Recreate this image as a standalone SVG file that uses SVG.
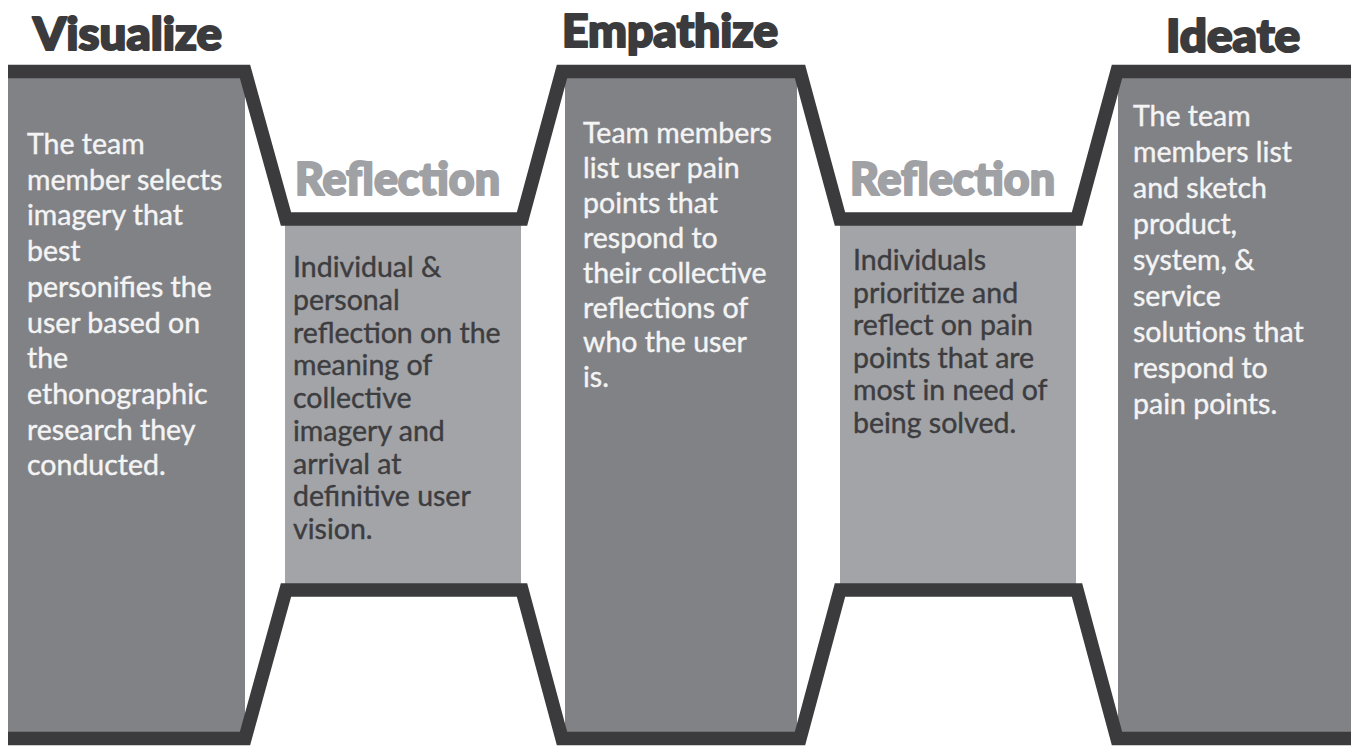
<svg xmlns="http://www.w3.org/2000/svg" width="1351" height="746" viewBox="0 0 1351 746">
  <style>
    .dark { fill: #818286; }
    .light { fill: #a3a4a8; }
    .frame { fill: none; stroke: #3b3b3d; stroke-width: 13.5; stroke-linejoin: miter; stroke-miterlimit: 10; }
    .head { font-family: Lato, "Liberation Sans", sans-serif; font-weight: 900; font-size: 46px; stroke-width: 2.2; stroke-linejoin: round; }
    .head-dark { fill: #3b3b3d; stroke: #3b3b3d; }
    .head-light { fill: #a0a1a5; stroke: #a0a1a5; }
    .body { font-family: Lato, "Liberation Sans", sans-serif; font-size: 28.5px; stroke-width: 0.4; }
    .on-dark { fill: #f4f4f4; stroke: #f4f4f4; }
    .on-light { fill: #3d3d40; stroke: #3d3d40; }
  </style>
  <rect width="1351" height="746" fill="#ffffff"/>

  <!-- Visualize stage -->
  <g id="visualize">
    <rect class="dark" x="8" y="78" width="237" height="654"/>
    <text class="head head-dark" x="33" y="50" textLength="189" lengthAdjust="spacingAndGlyphs">Visualize</text>
    <text class="body on-dark">
      <tspan x="27" y="154">The team</tspan>
      <tspan x="27" y="189.7">member selects</tspan>
      <tspan x="27" y="225.4">imagery that</tspan>
      <tspan x="27" y="261.1">best</tspan>
      <tspan x="27" y="296.8">personifies the</tspan>
      <tspan x="27" y="332.5">user based on</tspan>
      <tspan x="27" y="368.2">the</tspan>
      <tspan x="27" y="403.9">ethonographic</tspan>
      <tspan x="27" y="439.6">research they</tspan>
      <tspan x="27" y="475.3">conducted.</tspan>
    </text>
  </g>

  <!-- First reflection stage -->
  <g id="reflection-1">
    <rect class="light" x="285" y="224" width="236" height="360"/>
    <text class="head head-light" x="295" y="195" textLength="205" lengthAdjust="spacingAndGlyphs">Reflection</text>
    <text class="body on-light">
      <tspan x="293" y="277">Individual &amp;</tspan>
      <tspan x="293" y="309.75">personal</tspan>
      <tspan x="293" y="342.5">reflection on the</tspan>
      <tspan x="293" y="375.25">meaning of</tspan>
      <tspan x="293" y="408">collective</tspan>
      <tspan x="293" y="440.75">imagery and</tspan>
      <tspan x="293" y="473.5">arrival at</tspan>
      <tspan x="293" y="506.25">definitive user</tspan>
      <tspan x="293" y="539">vision.</tspan>
    </text>
  </g>

  <!-- Empathize stage -->
  <g id="empathize">
    <rect class="dark" x="565" y="78" width="232" height="654"/>
    <text class="head head-dark" x="562" y="47" textLength="216" lengthAdjust="spacingAndGlyphs">Empathize</text>
    <text class="body on-dark">
      <tspan x="583" y="143">Team members</tspan>
      <tspan x="583" y="177.9">list user pain</tspan>
      <tspan x="583" y="212.8">points that</tspan>
      <tspan x="583" y="247.7">respond to</tspan>
      <tspan x="583" y="282.6">their collective</tspan>
      <tspan x="583" y="317.5">reflections of</tspan>
      <tspan x="583" y="352.4">who the user</tspan>
      <tspan x="583" y="387.3">is.</tspan>
    </text>
  </g>

  <!-- Second reflection stage -->
  <g id="reflection-2">
    <rect class="light" x="840" y="224" width="236" height="360"/>
    <text class="head head-light" x="850" y="195" textLength="205" lengthAdjust="spacingAndGlyphs">Reflection</text>
    <text class="body on-light">
      <tspan x="853" y="270">Individuals</tspan>
      <tspan x="853" y="302.6">prioritize and</tspan>
      <tspan x="853" y="335.2">reflect on pain</tspan>
      <tspan x="853" y="367.8">points that are</tspan>
      <tspan x="853" y="400.4">most in need of</tspan>
      <tspan x="853" y="433">being solved.</tspan>
    </text>
  </g>

  <!-- Ideate stage -->
  <g id="ideate">
    <rect class="dark" x="1118" y="78" width="233" height="654"/>
    <text class="head head-dark" x="1166" y="52" textLength="134" lengthAdjust="spacingAndGlyphs">Ideate</text>
    <text class="body on-dark">
      <tspan x="1133" y="126">The team</tspan>
      <tspan x="1133" y="162">members list</tspan>
      <tspan x="1133" y="198">and sketch</tspan>
      <tspan x="1133" y="234">product,</tspan>
      <tspan x="1133" y="270">system, &amp;</tspan>
      <tspan x="1133" y="306">service</tspan>
      <tspan x="1133" y="342">solutions that</tspan>
      <tspan x="1133" y="378">respond to</tspan>
      <tspan x="1133" y="414">pain points.</tspan>
    </text>
  </g>

  <!-- Outline running over and under the stages -->
  <g id="connectors">
    <path class="frame" d="M 8 71.5 H 245 L 286 219 H 522 L 562 71.5 H 800 L 840 219 H 1077 L 1117 71.5 H 1351"/>
    <path class="frame" d="M 8 738.5 H 245 L 286 590 H 522 L 562 738.5 H 800 L 840 590 H 1077 L 1117 738.5 H 1351"/>
  </g>
</svg>
